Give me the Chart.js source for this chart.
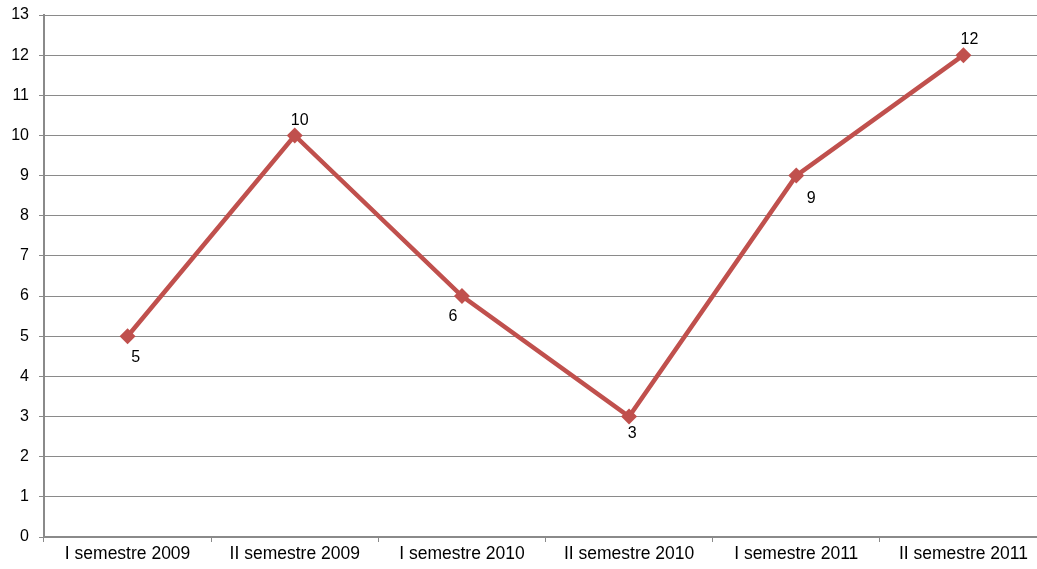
<!DOCTYPE html>
<html>
<head>
<meta charset="utf-8">
<script src="https://cdn.jsdelivr.net/npm/chart.js@4/dist/chart.umd.min.js"></script>
<style>
  html, body { margin:0; padding:0; background:#fff; overflow:hidden; }
  #wrap { position:absolute; left:0; top:0; width:1055px; height:569px; }
</style>
</head>
<body>
<div id="wrap"><canvas id="c" width="1055" height="569"></canvas></div>
<script>
const categories = ["I semestre 2009", "II semestre 2009", "I semestre 2010", "II semestre 2010", "I semestre 2011", "II semestre 2011"];
const values = [5, 10, 6, 3, 9, 12];
const yTicks = [0,1,2,3,4,5,6,7,8,9,10,11,12,13];

// label offsets (style): dx, dy from point
const labelOffsets = [[8,21],[5,-15],[-9,21],[3,17],[15,23],[6,-16]];

const FONT = "'Liberation Sans', Arial, sans-serif";
const GRID = '#8a8a8a';

const labelPlugin = {
  id: 'valueLabels',
  afterDatasetsDraw(chart) {
    const ctx = chart.ctx;
    const meta = chart.getDatasetMeta(0);
    ctx.save();
    ctx.font = '16px ' + FONT;
    ctx.fillStyle = '#000';
    ctx.textAlign = 'center';
    ctx.textBaseline = 'middle';
    meta.data.forEach((pt, i) => {
      const o = labelOffsets[i];
      ctx.fillText(String(values[i]), pt.x + o[0], pt.y + o[1]);
    });
    ctx.restore();
  }
};

new Chart(document.getElementById('c'), {
  type: 'line',
  data: {
    labels: categories,
    datasets: [{
      data: values,
      borderColor: '#C0504D',
      backgroundColor: '#C0504D',
      borderWidth: 4.5,
      pointStyle: 'rectRot',
      pointRadius: 8,
      pointBorderWidth: 0,
      pointBackgroundColor: '#C0504D',
      tension: 0,
      fill: false
    }]
  },
  options: {
    responsive: false,
    animation: false,
    layout: { padding: { left: 0, right: 3, top: 15, bottom: 0 } },
    plugins: { legend: { display: false }, tooltip: { enabled: false } },
    scales: {
      x: {
        type: 'category',
        offset: true,
        grid: { display: true, drawOnChartArea: false, offset: true, drawTicks: true, tickLength: 5, color: GRID, lineWidth: 1 },
        border: { display: true, color: GRID, width: 2 },
        ticks: { color: '#000', font: { family: FONT, size: 17.5 }, padding: 2, maxRotation: 0, autoSkip: false },
        afterFit(s) { s.height = 32; s.paddingLeft = 0; s.paddingRight = 0; }
      },
      y: {
        min: 0, max: 13,
        afterBuildTicks(s) { s.ticks = yTicks.map(v => ({ value: v })); },
        grid: { color: GRID, lineWidth: 1, drawTicks: true, tickLength: 5 },
        border: { display: true, color: GRID, width: 2 },
        ticks: { color: '#000', font: { family: FONT, size: 16 }, padding: 10 },
        afterFit(s) { s.width = 44; s.paddingTop = 0; s.paddingBottom = 0; }
      }
    }
  },
  plugins: [labelPlugin]
});
</script>
</body>
</html>
